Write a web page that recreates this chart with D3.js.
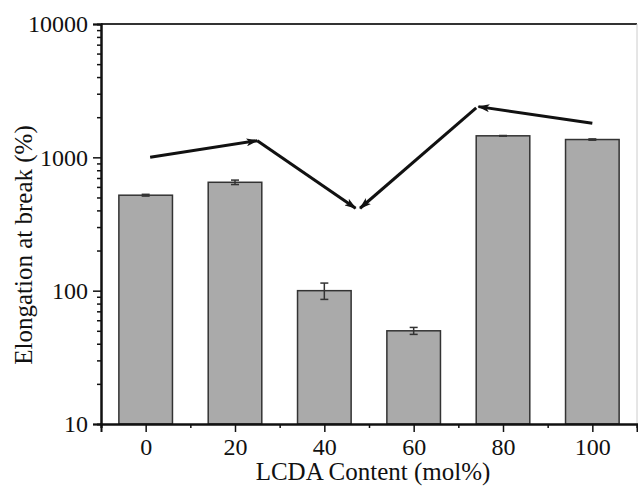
<html lang="en">
  <head>
    <script src="https://d3js.org/d3.v7.min.js"></script>
    <style>
      body { margin: 0; background: white; }
      text { font-family: "Liberation Serif", "Times New Roman", serif; fill: #111; }
    </style>
  </head>
  <body>
  <script>

  var w = 638;
  var h = 488;
  var margin = {top: 24, right: 1, bottom: 64, left: 101};
  var innerWidth = w - margin.left - margin.right;
  var innerHeight = h - margin.top - margin.bottom;

  // data
  var contents = [0, 20, 40, 60, 80, 100];
  var elongation = [520, 650, 100, 50, 1450, 1360];
  var errors = [8, 25, 14, 3, 8, 15];
  var xTicks = [0, 20, 40, 60, 80, 100];
  var yTicks = [10, 100, 1000, 10000];

  // trend arrows, in data units [x1, y1, x2, y2]
  var arrows = [
    [1, 1000, 25, 1334],
    [25, 1334, 47, 415],
    [74, 2345, 48, 415],
    [100, 1800, 74.5, 2400]
  ];

  var xScale = d3.scaleLinear()
      .domain([-10, 110])
      .range([0, innerWidth]);

  var yScale = d3.scaleLog()
      .domain([10, 10000])
      .range([innerHeight, 0]);

  var svg = d3.select("body")
    .append("svg")
      .attr("width", w)
      .attr("height", h);

  svg.append("rect")
    .attr("width", w)
    .attr("height", h)
    .attr("fill", "white");

  svg.append("defs").append("marker")
    .attr("id", "head")
    .attr("viewBox", "0 0 12 8")
    .attr("refX", 11)
    .attr("refY", 4)
    .attr("markerWidth", 12)
    .attr("markerHeight", 8)
    .attr("markerUnits", "userSpaceOnUse")
    .attr("orient", "auto")
    .append("path")
    .attr("d", "M0,0 L12,4 L0,8 L3,4 Z")
    .attr("fill", "#111");

  var g = svg.append("g")
      .attr("transform", `translate (${margin.left}, ${margin.top})`);

  // frame top / right
  g.append("line")
    .attr("x1", 0).attr("x2", innerWidth)
    .attr("y1", 0).attr("y2", 0)
    .attr("stroke", "#333")
    .attr("stroke-width", 2);

  g.append("line")
    .attr("x1", innerWidth).attr("x2", innerWidth)
    .attr("y1", 0).attr("y2", innerHeight)
    .attr("stroke", "#ccc")
    .attr("stroke-width", 1);

  var barW = xScale(6) - xScale(-6);

  g.selectAll("rect.bar")
    .data(contents)
    .enter().append("rect")
      .attr("class", "bar")
      .attr("x", d => xScale(d) - barW / 2)
      .attr("y", (d, i) => yScale(elongation[i]))
      .attr("width", barW)
      .attr("height", (d, i) => innerHeight - yScale(elongation[i]))
      .attr("fill", "#aaaaaa")
      .attr("stroke", "#333")
      .attr("stroke-width", 1.5);

  // error bars
  var err = g.append("g").attr("stroke", "#333").attr("stroke-width", 1.5);
  contents.forEach(function(d, i) {
    var cx = xScale(d);
    var hi = yScale(elongation[i] + errors[i]);
    var lo = yScale(elongation[i] - errors[i]);
    err.append("line").attr("x1", cx).attr("x2", cx).attr("y1", hi).attr("y2", lo);
    err.append("line").attr("x1", cx - 4).attr("x2", cx + 4).attr("y1", hi).attr("y2", hi);
    err.append("line").attr("x1", cx - 4).attr("x2", cx + 4).attr("y1", lo).attr("y2", lo);
  });

  // arrows
  g.selectAll("line.arrow")
    .data(arrows)
    .enter().append("line")
      .attr("class", "arrow")
      .attr("x1", d => xScale(d[0]))
      .attr("y1", d => yScale(d[1]))
      .attr("x2", d => xScale(d[2]))
      .attr("y2", d => yScale(d[3]))
      .attr("stroke", "#111")
      .attr("stroke-width", 3)
      .attr("marker-end", "url(#head)");

  // axes
  var xAxis = d3.axisBottom(xScale)
      .tickValues(xTicks)
      .tickSize(8)
      .tickPadding(6)
      .tickFormat(d3.format("d"));

  var xMinor = d3.axisBottom(xScale)
      .tickValues(d3.range(-10, 111, 20))
      .tickSize(4)
      .tickFormat("");

  var minorVals = [];
  [10, 100, 1000].forEach(function(b) {
    for (var k = 2; k <= 9; k++) minorVals.push(b * k);
  });

  var yAxis = d3.axisLeft(yScale)
      .tickValues(yTicks)
      .tickSize(8)
      .tickPadding(5)
      .tickFormat(d3.format("d"));

  var yMinor = d3.axisLeft(yScale)
      .tickValues(minorVals)
      .tickSize(4)
      .tickFormat("");

  g.append("g")
      .attr("class", "axis minor")
      .attr("transform", `translate (0, ${innerHeight})`)
      .call(xMinor);

  g.append("g")
      .attr("class", "axis")
      .attr("transform", `translate (0, ${innerHeight})`)
      .call(xAxis);

  g.append("g")
      .attr("class", "axis minor")
      .call(yMinor);

  g.append("g")
      .attr("class", "axis")
      .call(yAxis);

  // minor axes carry no labels
  svg.selectAll(".minor text").remove();

  svg.selectAll(".axis path").attr("stroke", "#111").attr("stroke-width", 2);
  svg.selectAll(".axis line").attr("stroke", "#111").attr("stroke-width", 1.5);
  svg.selectAll(".axis text")
    .attr("font-family", "Liberation Serif, serif")
    .attr("font-size", 24)
    .attr("fill", "#111");

  // axis titles
  svg.append("text")
    .attr("x", 373)
    .attr("y", 480)
    .attr("text-anchor", "middle")
    .attr("font-size", 25)
    .text("LCDA Content (mol%)");

  svg.append("text")
    .attr("transform", "translate(32, 245) rotate(-90)")
    .attr("text-anchor", "middle")
    .attr("font-size", 25)
    .text("Elongation at break (%)");

  </script>
  </body>
</html>
